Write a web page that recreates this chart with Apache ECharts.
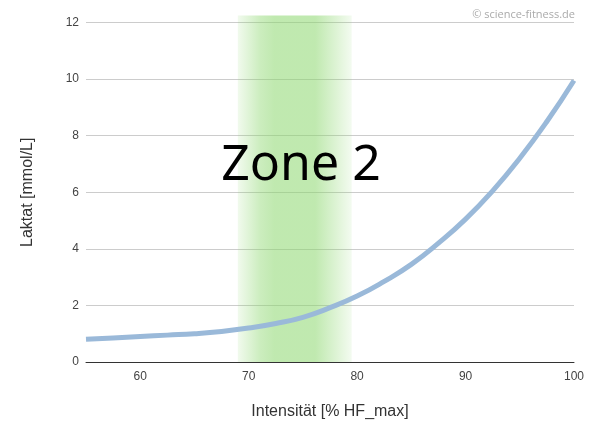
<!DOCTYPE html>
<html>
<head>
<meta charset="utf-8">
<script src="https://cdn.jsdelivr.net/npm/echarts@6/dist/echarts.min.js"></script>
<style>
html,body{margin:0;padding:0;background:#fff;}
#chart{width:597px;height:435px;}
</style>
</head>
<body>
<div id="chart"></div>
<script>
const intensity = [55, 57.5, 60, 62.5, 65, 67.5, 70, 72.5, 75, 77.5, 80, 82.5, 85, 87.5, 90, 92.5, 95, 97.5, 100];
const lactate   = [0.80, 0.85, 0.90, 0.95, 1.00, 1.08, 1.20, 1.36, 1.58, 1.92, 2.33, 2.85, 3.45, 4.2, 5.05, 6.05, 7.2, 8.5, 9.95];
const xTicks = [60, 70, 80, 90, 100];
const yTicks = [0, 2, 4, 6, 8, 10, 12];
const zoneRange = [69, 79.5];
const zoneTop = 12.25;
const zoneLabel = 'Zone 2';
const xName = 'Intensität [% HF_max]';
const yName = 'Laktat [mmol/L]';
const credit = '© science-fitness.de';

const chart = echarts.init(document.getElementById('chart'), null, {renderer: 'canvas'});
const font = '"Liberation Sans", Arial, sans-serif';
const bandGradient = new echarts.graphic.LinearGradient(0, 0, 1, 0, [
  {offset: 0, color: 'rgba(140,215,110,0.12)'},
  {offset: 0.2, color: 'rgba(140,215,110,0.45)'},
  {offset: 0.32, color: 'rgba(140,215,110,0.55)'},
  {offset: 0.68, color: 'rgba(140,215,110,0.55)'},
  {offset: 1, color: 'rgba(140,215,110,0.10)'}
]);
chart.setOption({
  animation: false,
  backgroundColor: '#fff',
  grid: {left: 86, right: 23, top: 22.5, bottom: 73},
  xAxis: {
    type: 'value', min: 55, max: 100,
    name: xName, nameLocation: 'middle', nameGap: 42,
    nameTextStyle: {fontFamily: font, fontSize: 16, color: '#333'},
    axisLine: {show: true, lineStyle: {color: '#333', width: 1}},
    axisTick: {show: false},
    splitLine: {show: false},
    axisLabel: {customValues: xTicks, margin: 9, fontFamily: font, fontSize: 12, color: '#444'}
  },
  yAxis: {
    type: 'value', min: yTicks[0], max: yTicks[yTicks.length - 1], interval: 2,
    name: yName, nameLocation: 'middle', nameGap: 50, nameRotate: 90,
    nameTextStyle: {fontFamily: font, fontSize: 16, color: '#333'},
    axisLine: {show: false}, axisTick: {show: false},
    splitLine: {lineStyle: {color: '#cccccc', width: 1}},
    axisLabel: {margin: 7, fontFamily: font, fontSize: 12, color: '#444'}
  },
  series: [{
    type: 'line',
    data: intensity.map((x, i) => [x, lactate[i]]),
    smooth: true,
    symbol: 'none',
    clip: false,
    lineStyle: {color: '#9ab9d9', width: 5},
    z: 3
  }]
});

const p0 = chart.convertToPixel({gridIndex: 0}, [zoneRange[0], 0]);
const p1 = chart.convertToPixel({gridIndex: 0}, [zoneRange[1], zoneTop]);
chart.setOption({
  graphic: [
    {type: 'rect', z: 1, silent: true,
     shape: {x: p0[0], y: p1[1], width: p1[0] - p0[0], height: p0[1] - p1[1]},
     style: {fill: bandGradient}},
    {type: 'text', x: 301, y: 166, z: 10,
     style: {text: zoneLabel, fontFamily: '"Noto Sans", "Open Sans", sans-serif', fontSize: 50, fill: '#000', align: 'center', verticalAlign: 'middle'}},
    {type: 'text', x: 575, y: 15, z: 10,
     style: {text: credit, fontFamily: '"Open Sans", "Noto Sans", sans-serif', fontSize: 11, fill: '#aaa', align: 'right', verticalAlign: 'middle'}}
  ]
});
</script>
</body>
</html>
